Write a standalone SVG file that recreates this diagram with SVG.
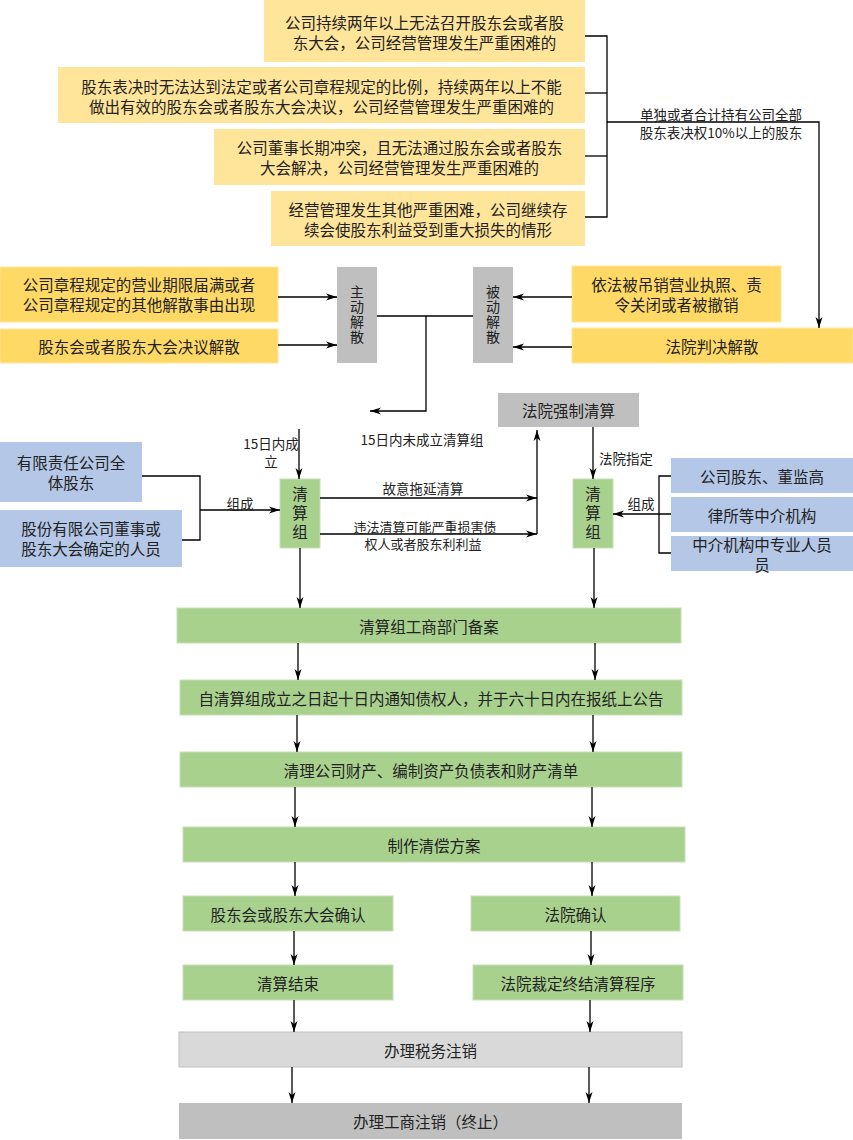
<svg xmlns="http://www.w3.org/2000/svg" width="853" height="1140" viewBox="0 0 853 1140">
<defs>
<marker id="arr" markerUnits="userSpaceOnUse" markerWidth="12" markerHeight="8" refX="11" refY="3.5" orient="auto" overflow="visible">
<path d="M0,0 L11,3.5 L0,7 L3,3.5 Z" fill="#000"/>
</marker>
</defs>
<style>
text{font-family:"Noto Sans CJK SC","Noto Sans",sans-serif;fill:#222;text-anchor:middle;dominant-baseline:central}
.t{font-size:15.5px}
.v{font-size:14px;writing-mode:vertical-rl;letter-spacing:1px}
.v2{font-size:15.5px;writing-mode:vertical-rl;letter-spacing:3.5px}
.s{font-size:13.5px}
.s2{font-size:13px}
.y1{fill:#FFE599}
.y2{fill:#FFD966;stroke:#FFE599;stroke-width:1}
.g{fill:#BFBFBF}
.lg{fill:#D9D9D9;stroke:#BFBFBF;stroke-width:1}
.b{fill:#B4C7E7}
.gr{fill:#A9D18E;stroke:#C5E0B4;stroke-width:1}
.c path,.c line,.c polyline{stroke:#000;stroke-width:1.3;fill:none}
.a{marker-end:url(#arr)}
</style>
<rect width="853" height="1140" fill="#fff"/>

<g id="n-top1"><rect class="y1" x="264" y="0" width="321" height="62"/>
<text class="t" x="424.5" y="22">公司持续两年以上无法召开股东会或者股</text>
<text class="t" x="424.5" y="42">东大会，公司经营管理发生严重困难的</text></g>
<g id="n-top2"><rect class="y1" x="58" y="67" width="527" height="56"/>
<text class="t" x="321.5" y="86">股东表决时无法达到法定或者公司章程规定的比例，持续两年以上不能</text>
<text class="t" x="321.5" y="106">做出有效的股东会或者股东大会决议，公司经营管理发生严重困难的</text></g>
<g id="n-top3"><rect class="y1" x="214" y="129" width="371" height="56"/>
<text class="t" x="399.5" y="147">公司董事长期冲突，且无法通过股东会或者股东</text>
<text class="t" x="399.5" y="167">大会解决，公司经营管理发生严重困难的</text></g>
<g id="n-top4"><rect class="y1" x="271" y="191" width="314" height="55"/>
<text class="t" x="428" y="209">经营管理发生其他严重困难，公司继续存</text>
<text class="t" x="428" y="229">续会使股东利益受到重大损失的情形</text></g>

<g id="n-l1"><rect class="y2" x="0" y="267" width="278" height="55"/>
<text class="t" x="139" y="284">公司章程规定的营业期限届满或者</text>
<text class="t" x="139" y="304">公司章程规定的其他解散事由出现</text></g>
<g id="n-l2"><rect class="y2" x="0" y="329" width="278" height="34"/>
<text class="t" x="139" y="346">股东会或者股东大会决议解散</text></g>
<g id="n-zd"><rect class="g" x="337" y="267" width="40" height="96"/>
<text class="v" x="357" y="315">主动解散</text></g>
<g id="n-bd"><rect class="g" x="473" y="267" width="40" height="96"/>
<text class="v" x="493" y="315">被动解散</text></g>
<g id="n-r1"><rect class="y2" x="572" y="266" width="209" height="56"/>
<text class="t" x="676.5" y="284">依法被吊销营业执照、责</text>
<text class="t" x="676.5" y="304">令关闭或者被撤销</text></g>
<g id="n-r2"><rect class="y2" x="572" y="328" width="281" height="35"/>
<text class="t" x="712" y="346">法院判决解散</text></g>

<g id="n-fyqz"><rect class="g" x="498" y="393" width="141" height="34"/>
<text class="t" x="568.5" y="410">法院强制清算</text></g>

<g id="n-lb1"><rect class="b" x="0" y="442" width="142" height="60"/>
<text class="t" x="71" y="462">有限责任公司全</text>
<text class="t" x="71" y="482">体股东</text></g>
<g id="n-lb2"><rect class="b" x="0" y="510" width="182" height="57"/>
<text class="t" x="91" y="528">股份有限公司董事或</text>
<text class="t" x="91" y="548">股东大会确定的人员</text></g>
<g id="n-qsz1"><rect class="gr" x="280" y="479" width="40" height="69"/>
<text class="v2" x="300" y="515">清算组</text></g>
<g id="n-qsz2"><rect class="gr" x="573" y="479" width="40" height="69"/>
<text class="v2" x="593" y="515">清算组</text></g>
<g id="n-rb1"><rect class="b" x="671" y="458" width="182" height="35"/>
<text class="t" x="762" y="476">公司股东、董监高</text></g>
<g id="n-rb2"><rect class="b" x="671" y="497" width="182" height="35"/>
<text class="t" x="762" y="515">律所等中介机构</text></g>
<g id="n-rb3"><rect class="b" x="671" y="536" width="182" height="35"/>
<text class="t" x="762" y="544">中介机构中专业人员</text>
<text class="t" x="762" y="564">员</text></g>

<g id="n-ba"><rect class="gr" x="177" y="608" width="504" height="35"/>
<text class="t" x="429" y="625.5">清算组工商部门备案</text></g>
<g id="n-tz"><rect class="gr" x="180" y="680" width="502" height="35"/>
<text class="t" x="431" y="697.5">自清算组成立之日起十日内通知债权人，并于六十日内在报纸上公告</text></g>
<g id="n-ql"><rect class="gr" x="180" y="752" width="502" height="35"/>
<text class="t" x="431" y="769.5">清理公司财产、编制资产负债表和财产清单</text></g>
<g id="n-zz"><rect class="gr" x="183" y="827" width="502" height="35"/>
<text class="t" x="434" y="844.5">制作清偿方案</text></g>
<g id="n-gdqr"><rect class="gr" x="183" y="896" width="210" height="35"/>
<text class="t" x="288" y="913.5">股东会或股东大会确认</text></g>
<g id="n-fyqr"><rect class="gr" x="471" y="896" width="209" height="35"/>
<text class="t" x="575.5" y="913.5">法院确认</text></g>
<g id="n-js"><rect class="gr" x="183" y="965" width="210" height="35"/>
<text class="t" x="288" y="982.5">清算结束</text></g>
<g id="n-cd"><rect class="gr" x="473" y="965" width="210" height="35"/>
<text class="t" x="578" y="982.5">法院裁定终结清算程序</text></g>
<g id="n-sw"><rect class="lg" x="179" y="1032" width="503" height="35"/>
<text class="t" x="430.5" y="1049.5">办理税务注销</text></g>
<g id="n-gs"><rect class="g" x="179" y="1103" width="503" height="36"/>
<text class="t" x="430.5" y="1121">办理工商注销（终止）</text></g>

<g id="connectors" class="c">
<polyline points="585,36 607,36 607,217 585,217"/>
<line x1="585" y1="93" x2="607" y2="93"/>
<line x1="585" y1="156" x2="607" y2="156"/>
<polyline class="a" points="607,122 819,122 819,328"/>
<line class="a" x1="278" y1="297" x2="337" y2="297"/>
<line class="a" x1="278" y1="345" x2="337" y2="345"/>
<line class="a" x1="572" y1="297" x2="513" y2="297"/>
<line class="a" x1="572" y1="347" x2="513" y2="347"/>
<line x1="377" y1="316" x2="473" y2="316"/>
<polyline class="a" points="426,316 426,411 370,411"/>
<line class="a" x1="299" y1="429" x2="299" y2="479"/>
<polyline points="142,476 200,476 200,540 182,540"/>
<line class="a" x1="200" y1="510" x2="280" y2="510"/>
<line class="a" x1="320" y1="498" x2="537" y2="498"/>
<line class="a" x1="320" y1="534" x2="537" y2="534"/>
<line class="a" x1="537" y1="534" x2="537" y2="430"/>
<line class="a" x1="593" y1="427" x2="593" y2="479"/>
<polyline points="671,476 659,476 659,553 671,553"/>
<line class="a" x1="671" y1="514" x2="613" y2="514"/>
<line class="a" x1="300" y1="548" x2="300" y2="608"/>
<line class="a" x1="594" y1="548" x2="594" y2="608"/>
<line class="a" x1="298" y1="643" x2="298" y2="680"/>
<line class="a" x1="595" y1="643" x2="595" y2="680"/>
<line class="a" x1="297" y1="715" x2="297" y2="752"/>
<line class="a" x1="593" y1="715" x2="593" y2="752"/>
<line class="a" x1="295" y1="787" x2="295" y2="827"/>
<line class="a" x1="592" y1="787" x2="592" y2="827"/>
<line class="a" x1="295" y1="862" x2="295" y2="896"/>
<line class="a" x1="592" y1="862" x2="592" y2="896"/>
<line class="a" x1="294" y1="931" x2="294" y2="965"/>
<line class="a" x1="591" y1="931" x2="591" y2="965"/>
<line class="a" x1="294" y1="1000" x2="294" y2="1032"/>
<line class="a" x1="590" y1="1000" x2="590" y2="1032"/>
<line class="a" x1="292" y1="1067" x2="292" y2="1103"/>
<line class="a" x1="589" y1="1067" x2="589" y2="1103"/>
<text class="s" x="721" y="114">单独或者合计持有公司全部</text>
<text class="s" x="721" y="132">股东表决权10%以上的股东</text>
<text class="s" x="271" y="443">15日内成</text>
<text class="s" x="271" y="461">立</text>
<text class="s" x="422" y="439">15日内未成立清算组</text>
<text class="s" x="240" y="503">组成</text>
<text class="s" x="423" y="488">故意拖延清算</text>
<text class="s2" x="425" y="526">违法清算可能严重损害债</text>
<text class="s2" x="423" y="543">权人或者股东利利益</text>
<text class="s" x="626" y="458">法院指定</text>
<text class="s" x="641" y="503">组成</text>
</g>
</svg>
